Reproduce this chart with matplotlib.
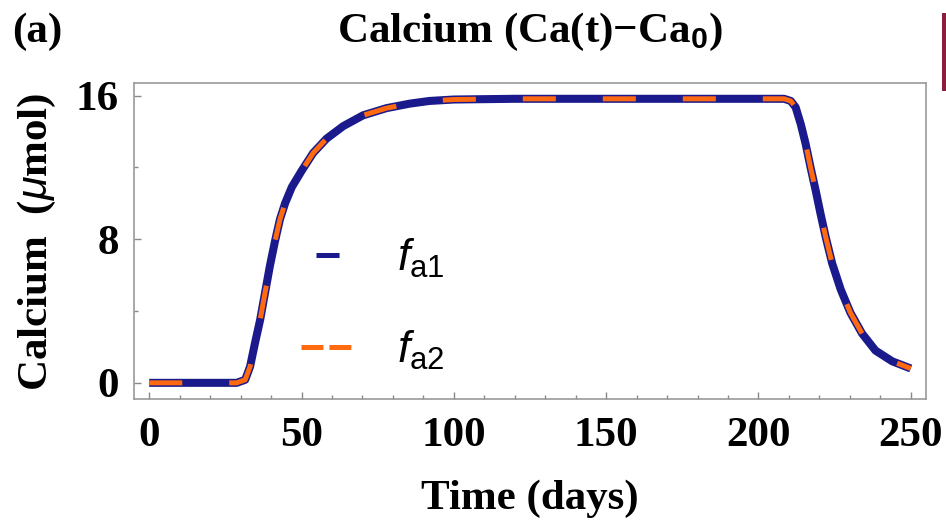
import matplotlib
matplotlib.use('Agg')
import matplotlib.pyplot as plt
from matplotlib.lines import Line2D
from matplotlib.patches import Rectangle

plt.rcParams['font.family'] = 'Liberation Serif'
plt.rcParams['mathtext.fontset'] = 'custom'
plt.rcParams['mathtext.rm'] = 'Liberation Sans:weight=normal'
plt.rcParams['mathtext.it'] = 'Liberation Sans:italic:weight=normal'
plt.rcParams['mathtext.bf'] = 'Liberation Sans:bold'
plt.rcParams['lines.scale_dashes'] = False

# calcium change over time (days -> umol)
days = [0, 10, 20, 28.7, 31.5, 33.1, 34.7, 36.4, 38.0, 39.6, 41.3, 42.9, 44.6,
        46.8, 50.0, 53.8, 58.2, 63.7, 70.2, 77.9, 85.5, 92, 100, 120, 150, 180,
        200, 208.4, 210.6, 212.2, 213.9, 215.5, 217.1, 218.8, 220.4, 222.1,
        224.2, 227.0, 230.2, 234.0, 238.4, 243.9, 250]
fa1 = [0, 0, 0, 0, 0.17, 0.9, 2.2, 3.5, 5.0, 6.5, 7.9, 9.1, 10.0,
       10.9, 11.8, 12.8, 13.6, 14.3, 14.9, 15.3, 15.55, 15.7, 15.78, 15.82, 15.82, 15.82,
       15.82, 15.82, 15.7, 15.35, 14.4, 13.3, 12.0, 10.7, 9.4, 8.1,
       6.65, 5.2, 3.9, 2.75, 1.8, 1.2, 0.8]
fa2 = [0, 0, 0, 0, 0.17, 0.9, 2.2, 3.5, 5.0, 6.5, 7.9, 9.1, 10.0,
       10.9, 11.8, 12.8, 13.6, 14.3, 14.9, 15.3, 15.55, 15.7, 15.78, 15.82, 15.82, 15.82,
       15.82, 15.82, 15.7, 15.35, 14.4, 13.3, 12.0, 10.7, 9.4, 8.1,
       6.65, 5.2, 3.9, 2.75, 1.8, 1.2, 0.8]

xticks = [0, 50, 100, 150, 200, 250]
yticks = [0, 8, 16]

navy = '#1a1a8c'
orange = '#ff6a10'

fig = plt.figure(figsize=(9.46, 5.20), dpi=100)
ax = fig.add_axes([134/946, 1-399/520, 792/946, 316/520])

ax.plot(days, fa1, color=navy, lw=5.8, solid_joinstyle='round', solid_capstyle='butt')
ax.plot(days, fa2, color=orange, lw=3.6, linestyle=(0, (23.8, 33.8)),
        dash_capstyle='butt', dash_joinstyle='round')

ax.set_xlim(-5, 255)
ax.set_ylim(-0.9, 16.7)
ax.set_xticks(xticks)
ax.set_yticks(yticks)
ax.set_xticks(range(0, 251, 10), minor=True)
ax.set_yticks([4, 12], minor=True)
ax.tick_params(which='both', direction='in', color='#888888', width=1,
               top=False, right=False, labelsize=31)
ax.tick_params(which='major', length=5)
ax.tick_params(which='minor', length=3)
ax.tick_params(axis='x', pad=13)
ax.tick_params(axis='y', pad=11)
for lbl in ax.get_xticklabels() + ax.get_yticklabels():
    lbl.set_fontweight('bold')
for s in ax.spines.values():
    s.set_color('#999999')
    s.set_linewidth(1.2)

# legend: short solid dash for f_a1, two dashes for f_a2
h1 = Line2D([], [], color=navy, lw=3.6, linestyle=(65.8, (16.6, 60)), dash_capstyle='butt')
h2 = Line2D([], [], color=orange, lw=3.6, linestyle=(0, (15.8, 4.3)), dash_capstyle='butt')
ax.legend([h1, h2], [r'$f_{\mathrm{a1}}$', r'$f_{\mathrm{a2}}$'],
          loc='upper left', bbox_to_anchor=(0.211, 0.513), frameon=False,
          prop={'size': 32}, handlelength=1.17, handletextpad=0.99,
          labelspacing=1.1, borderpad=0, borderaxespad=0)

fig.text(530/946, 1-32/520, 'Calcium (Ca(t)\u2212Ca$_{\\mathbf{0}}$)', ha='center', va='center',
         fontsize=31, fontweight='bold')
fig.text(12/946, 1-32/520, '(a)', ha='left', va='center', fontsize=31, fontweight='bold')
fig.text(530/946, 1-518/520, 'Time (days)', ha='center', va='bottom', fontsize=31,
         fontweight='bold')
fig.text(37/946, 1-242/520, r'Calcium  ($\mu$mol)', ha='center', va='center',
         rotation=90, fontsize=31, fontweight='bold')

# edge of the neighbouring panel
fig.patches.append(Rectangle((942/946, 1-91/520), 5/946, 78/520, transform=fig.transFigure,
                             facecolor='#8c1d3c', edgecolor='none'))

fig.savefig('out.png', dpi=100)
